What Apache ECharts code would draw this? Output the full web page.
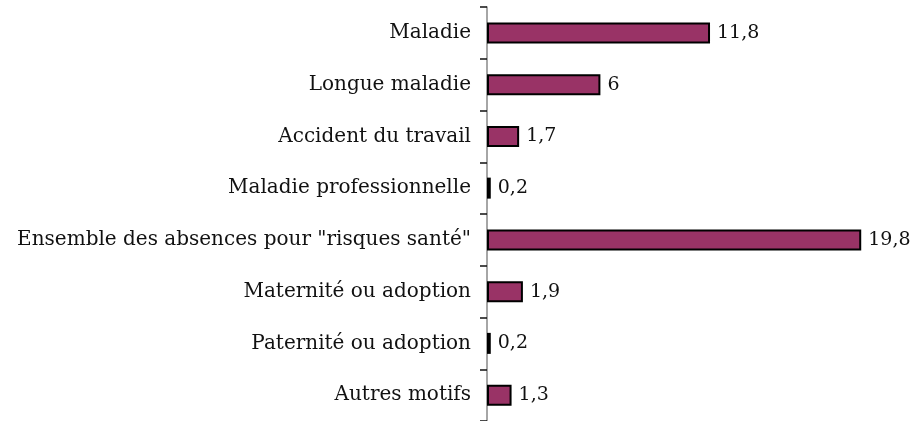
<!DOCTYPE html>
<html>
<head>
<meta charset="utf-8">
<script src="https://cdn.jsdelivr.net/npm/echarts@6/dist/echarts.min.js"></script>
<style>
  html, body { margin: 0; padding: 0; background: #fff; }
  #chart { width: 917px; height: 421px; }
</style>
</head>
<body>
<div id="chart"></div>
<script>
// motifs d'absence
const categories = [
  'Maladie',
  'Longue maladie',
  'Accident du travail',
  'Maladie professionnelle',
  'Ensemble des absences pour "risques santé"',
  'Maternité ou adoption',
  'Paternité ou adoption',
  'Autres motifs'
];
const values = [11.8, 6, 1.7, 0.2, 19.8, 1.9, 0.2, 1.3];

const font = 'DejaVu Serif';
let chart = echarts.init(document.getElementById('chart'));

chart.setOption({
  animation: false,
  grid: { left: 487, right: 52, top: 7, bottom: 0 },
  xAxis: {
    type: 'value',
    min: 0,
    max: 20,
    show: false
  },
  yAxis: {
    type: 'category',
    inverse: true,
    data: categories,
    axisLine: { lineStyle: { color: '#888', width: 1.5 } },
    axisTick: { show: true, length: 7, lineStyle: { color: '#111', width: 1.5 } },
    axisLabel: {
      margin: 16,
      color: '#111',
      fontFamily: font,
      fontSize: 20
    }
  },
  series: [
    {
      type: 'bar',
      data: values,
      barWidth: 21,
      itemStyle: {
        color: '#993366',
        borderColor: '#000',
        borderWidth: 2
      },
      label: {
        show: true,
        position: 'right',
        distance: 7,
        color: '#111',
        fontFamily: font,
        fontSize: 19,
        formatter: p => String(p.value).replace('.', ',')
      }
    }
  ]
});
</script>
</body>
</html>
